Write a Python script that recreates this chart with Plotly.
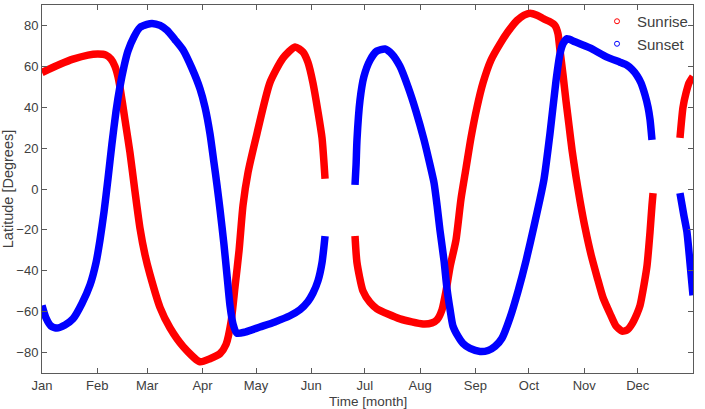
import plotly.graph_objects as go

# Day of year (0 = 1 Jan) and latitude in degrees; None marks gaps
sunrise_day = [0, 10.1, 17.4, 25.8, 31.4, 35.9, 38.7, 40.9, 42.6, 43.7, 46.5, 49.3, 52.1, 54.9, 57.7, 60.6,
               66.2, 71.8, 79.1, 88.6, 94.2, 99.8, 103.2, 106.0, 108.2, 110.5, 112.7, 115.5, 120.5, 127.8,
               135.1, 141.9, 146.3, 149.1, 151.9, 154.7, 157.0, 158.7,
               None,
               175.5, 176.6, 180.0, 183.9, 187.8, 200.7, 213.6, 218.7, 221.5, 224.3, 226.5, 228.8, 232.1,
               234.9, 237.7, 240.5, 243.9, 247.3, 251.7, 256.8, 261.3, 266.3, 270.2, 273.6, 277.5, 280.9,
               284.3, 287.6, 289.3, 290.4, 292.1, 293.8, 295.5, 297.2, 299.4, 301.7, 304.5, 307.8, 311.2,
               314.5, 318.5, 321.8, 325.2, 328.0, 330.8, 333.6, 335.3, 337.5, 339.2, 340.9, 342.0, 342.6,
               None,
               357.7, 359.4, 361.1, 362.8, 365.0]
sunrise_lat = [57, 61, 63.5, 65.5, 66, 65.5, 63.5, 60, 55, 50, 34, 18, -1, -19, -32, -42,
               -58, -68, -77, -84.5, -83, -80.5, -76, -65, -48, -30, -8, 8, 27, 52,
               64, 69.5, 67, 62, 52, 38, 25, 5,
               None,
               -23, -36, -50, -55.5, -58.6, -63.5, -66, -65.5, -64, -59, -50, -38, -25,
               -5, 10, 25, 40, 52, 63, 71, 77, 82.4, 85, 86, 85, 83.4,
               82, 80, 76, 68, 56, 43, 31, 19, 6, -6, -19, -32, -43,
               -53, -61, -67, -69.5, -69, -66, -61, -57, -47, -37.7, -21, -8, -2,
               None,
               25, 40, 47, 52, 55]

sunset_day = [0, 2.2, 5.0, 8.4, 12.9, 17.4, 22.4, 26.9, 30.3, 32.5, 34.8, 37.0, 39.2, 41.5, 43.7,
              46.0, 48.2, 51.6, 54.9, 58.9, 61.7, 66.2, 70.1, 74.6, 79.1, 84.1, 88.6, 91.4, 94.2, 96.4,
              98.1, 99.8, 102.0, 103.7, 105.4, 107.1, 109.3, 113.8, 122.2, 130.6, 139.0, 144.7, 149.1,
              151.9, 154.7, 157.0, 158.7,
              None,
              175.5, 176.1, 176.6, 178.3, 180.5, 183.9, 187.8, 192.3, 196.2, 200.7, 205.2, 209.7, 214.2,
              217.5, 219.8, 221.5, 223.1, 225.4, 227.1, 228.8, 230.4, 233.2, 236.0, 240.0, 245.6, 250.1,
              254.0, 257.9, 262.4, 266.9, 271.4, 275.9, 279.2, 281.5, 284.8, 288.2, 290.4, 292.1,
              294.4, 298.8, 307.2, 316.8, 324.1, 328.0, 330.8, 333.6, 335.8, 338.1, 339.8, 340.9, 342.0,
              None,
              357.7, 359.9, 361.6, 363.3, 365.0]
sunset_lat = [-57, -63, -67, -68, -66.5, -63.5, -56, -47, -36, -25, -11, 5, 22, 38, 50,
              60, 67.5, 74.5, 79, 80.5, 81, 80, 77.6, 73, 68, 59, 49, 40, 27, 13,
              2, -10, -27, -42, -57, -66, -70.5, -70, -67.5, -65, -62, -59, -55,
              -51, -45, -36, -23,
              None,
              2, 12, 24, 43.5, 55, 63, 67.5, 68.5, 66, 60, 50, 38, 24,
              12, 3, -8, -20, -35, -49, -59, -67, -72, -75.5, -78, -79.5, -79,
              -77, -73, -63, -50, -35, -18, -5, 5, 27, 53, 66, 71,
              73.5, 72, 69, 64.5, 62, 60.5, 58.5, 55.5, 52, 46, 40, 34, 24,
              None,
              -2, -13, -21, -36, -52]

month_start = [0, 31, 59, 90, 120, 151, 181, 212, 243, 273, 304, 334]
month_names = ["Jan", "Feb", "Mar", "Apr", "May", "Jun", "Jul", "Aug", "Sep", "Oct", "Nov", "Dec"]
lat_ticks = [-80, -60, -40, -20, 0, 20, 40, 60, 80]

RED = "#ff0000"
BLUE = "#0000ff"
AXIS = "#5a5a5a"
TXT = "#404040"
FONT = "Liberation Sans, Arial, sans-serif"

fig = go.Figure()
fig.add_trace(go.Scatter(x=sunrise_day, y=sunrise_lat, mode="lines",
                         line=dict(color=RED, width=7.5, shape="spline", smoothing=0.6),
                         showlegend=False, connectgaps=False))
fig.add_trace(go.Scatter(x=sunset_day, y=sunset_lat, mode="lines",
                         line=dict(color=BLUE, width=7.5, shape="spline", smoothing=0.6),
                         showlegend=False, connectgaps=False))
# legend entries (marker style)
fig.add_trace(go.Scatter(x=[None], y=[None], mode="markers", name="Sunrise",
                         marker=dict(symbol="circle-open", size=5, color=RED, line=dict(width=1))))
fig.add_trace(go.Scatter(x=[None], y=[None], mode="markers", name="Sunset",
                         marker=dict(symbol="circle-open", size=5, color=BLUE, line=dict(width=1))))

axis_common = dict(showline=True, linecolor=AXIS, linewidth=1, mirror="ticks",
                   ticks="inside", ticklen=5, tickcolor=AXIS, tickwidth=1,
                   showgrid=False, zeroline=False, automargin=False,
                   tickfont=dict(family=FONT, size=13, color=TXT))

fig.update_xaxes(range=[0, 365], tickvals=month_start, ticktext=month_names, **axis_common)
fig.update_yaxes(range=[-90, 90], tickvals=lat_ticks,
                 title=dict(text="Latitude [Degrees]", font=dict(family=FONT, size=14.5, color=TXT), standoff=2),
                 **axis_common)

fig.add_annotation(text="Time [month]", xref="paper", yref="paper", x=0.5, y=0,
                   xanchor="center", yanchor="top", yshift=-19, showarrow=False,
                   font=dict(family=FONT, size=13.5, color=TXT))

fig.update_layout(
    width=705, height=409,
    margin=dict(l=42, r=12, t=5, b=36),
    paper_bgcolor="white", plot_bgcolor="white",
    font=dict(family=FONT, size=14, color=TXT),
    legend=dict(x=1, y=1, xanchor="right", yanchor="top", bgcolor="rgba(0,0,0,0)",
                font=dict(family=FONT, size=15, color=TXT), tracegroupgap=0, itemwidth=30),
)

fig.write_html("out.html")
